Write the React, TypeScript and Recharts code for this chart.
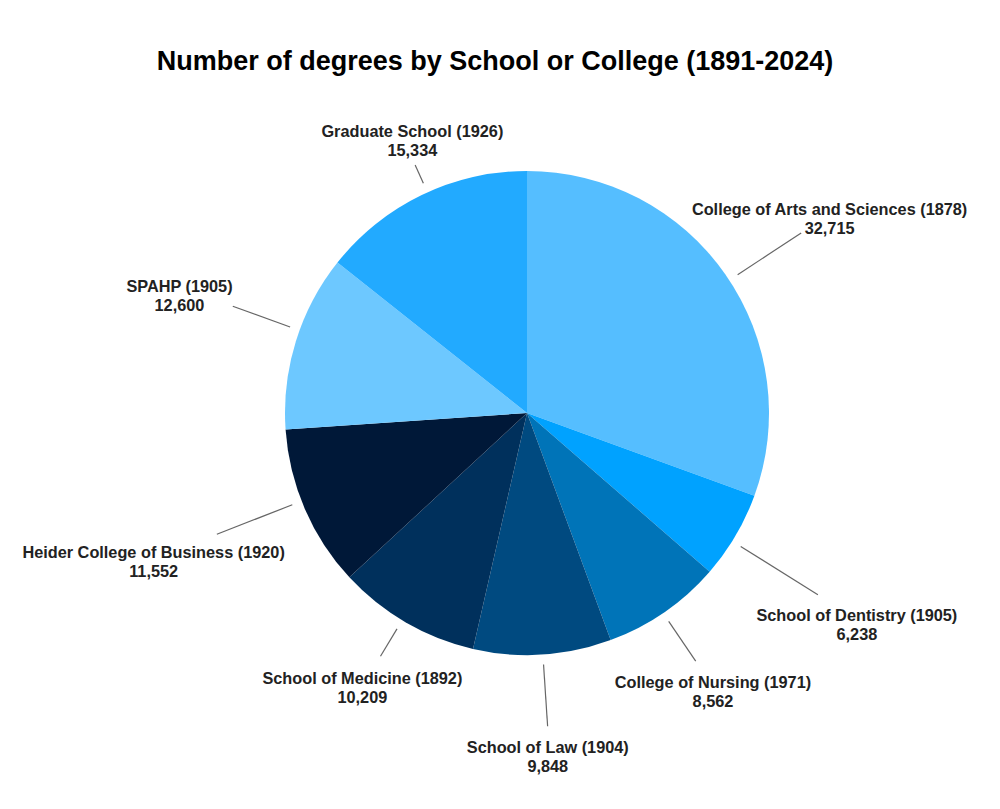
import React from 'react';
import { PieChart, Pie, Cell } from 'recharts';

const schools = [
  'College of Arts and Sciences (1878)',
  'School of Dentistry (1905)',
  'College of Nursing (1971)',
  'School of Law (1904)',
  'School of Medicine (1892)',
  'Heider College of Business (1920)',
  'SPAHP (1905)',
  'Graduate School (1926)',
];
const degrees = [32715, 6238, 8562, 9848, 10209, 11552, 12600, 15334];
const sliceColors = ['#55BEFF', '#00A2FF', '#0074B8', '#004A80', '#00305C', '#001838', '#6DC8FF', '#22AAFF'];

// layout: leader line end radius / angle nudge and label centre radius / angle nudge per slice
const leaderEndRadius = [328, 343, 300, 314, 284, 333, 313, 272];
const leaderAngleNudge = [-1.7, -1.5, -0.4, 0.1, -1.0, -2.0, -2.7, -1.5];
const labelRadius = [360, 392, 335, 344, 320, 402, 367, 296];
const labelAngleNudge = [-2.2, -2.2, -0.9, -0.2, -0.9, -1.6, -1.5, -3.0];

const data = schools.map((name, i) => ({ name, value: degrees[i] }));

const RADIAN = Math.PI / 180;
const FONT = '"Liberation Sans", Arial, Helvetica, sans-serif';

const renderLabel = (props: any) => {
  const { cx, cy, midAngle, outerRadius, index, value, name } = props;
  const a = -(midAngle + leaderAngleNudge[index]) * RADIAN;
  const r0 = outerRadius + 10;
  const r1 = leaderEndRadius[index];
  const la = -(midAngle + labelAngleNudge[index]) * RADIAN;
  const rl = labelRadius[index];
  const lx = cx + rl * Math.cos(la);
  const ly = cy + rl * Math.sin(la);
  return (
    <g>
      <line
        x1={cx + r0 * Math.cos(a)}
        y1={cy + r0 * Math.sin(a)}
        x2={cx + r1 * Math.cos(a)}
        y2={cy + r1 * Math.sin(a)}
        stroke="#666"
        strokeWidth={1.2}
      />
      <text x={lx} y={ly - 9.5} textAnchor="middle" dominantBaseline="central" fontFamily={FONT} fontWeight="bold" fontSize={16.3} fill="#222">
        {name}
      </text>
      <text x={lx} y={ly + 9.5} textAnchor="middle" dominantBaseline="central" fontFamily={FONT} fontWeight="bold" fontSize={16.3} fill="#222">
        {Number(value).toLocaleString('en-US')}
      </text>
    </g>
  );
};

export default function App() {
  return (
    <div style={{ position: 'absolute', left: 0, top: 0, width: 1000, height: 809, background: '#fff' }}>
      <div
        style={{
          position: 'absolute',
          left: 0,
          top: 48,
          width: 990,
          textAlign: 'center',
          fontFamily: FONT,
          fontWeight: 'bold',
          fontSize: 27,
          lineHeight: '27px',
          color: '#000',
        }}
      >
        Number of degrees by School or College (1891-2024)
      </div>
      <PieChart
        width={1000}
        height={809}
        margin={{ top: 0, right: 0, bottom: 0, left: 0 }}
        style={{ position: 'absolute', left: 0, top: 0 }}
      >
        <Pie
          data={data}
          dataKey="value"
          nameKey="name"
          cx={527}
          cy={413}
          outerRadius={242}
          startAngle={90}
          endAngle={-270}
          stroke="none"
          label={renderLabel}
          labelLine={false}
          isAnimationActive={false}
        >
          {data.map((d, i) => (
            <Cell key={d.name} fill={sliceColors[i]} stroke="none" />
          ))}
        </Pie>
      </PieChart>
    </div>
  );
}
